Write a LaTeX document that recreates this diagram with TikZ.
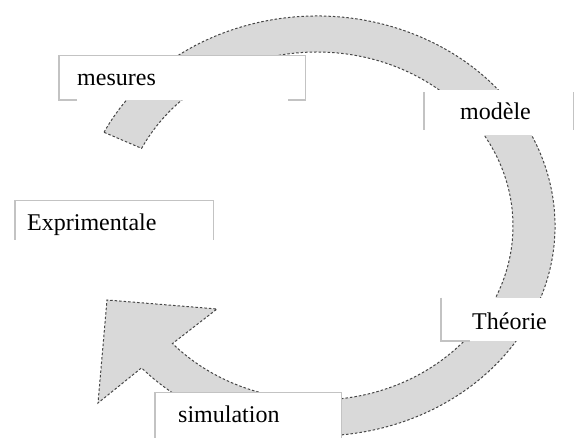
\documentclass[tikz,border=0pt]{standalone}
\usepackage{fontspec}
\setmainfont{Liberation Serif}
\usetikzlibrary{calc}
\definecolor{ringgray}{RGB}{217,217,217}
\definecolor{ringline}{RGB}{70,70,70}
\definecolor{boxgray}{RGB}{195,195,195}

\begin{document}
\begin{tikzpicture}[x=1pt,y=1pt,
    ring/.style={fill=ringgray,draw=ringline,line width=1pt,dash pattern=on 2.5pt off 2pt},
    blank/.style={fill=white,draw=none,inner sep=0pt,anchor=south west},
    boxedge/.style={draw=boxgray,line width=1.5pt},
    lbl/.style={anchor=base west,inner sep=0pt,font=\fontsize{24}{28}\selectfont}]
  \useasboundingbox (0,0) rectangle (579,438);
  \coordinate (c) at (317,212);
  % circular arrow
  \path[ring] ($(c)+(153.5:238pt and 210pt)$)
      arc[start angle=153.5, end angle=-137.5, x radius=238pt, y radius=210pt]
      -- (98,35) -- (107,138) -- (217,129)
      -- ($(c)+(-137.5:196pt and 174pt)$)
      arc[start angle=-137.5, end angle=153.5, x radius=196pt, y radius=174pt]
      -- cycle;
  % white boxes over the ring
  \foreach \name/\x/\y/\w/\h in {mesbox/59/338/246/44, modbox/424/303/149/45,
      expbox/15/198/198/39, theobox/441/97/119/43, simbox/155/-5/186/50} {
    \node[blank,minimum width=\w pt,minimum height=\h pt] (\name) at (\x,\y) {};
  }
  % visible parts of the borders
  \draw[boxedge] ($(mesbox.south west)+(18,0)$) -- (mesbox.south west) -- (mesbox.north west)
      -- (mesbox.north east) -- (mesbox.south east) -- ++(-17,0);
  \draw[boxedge] ($(modbox.south west)+(0,5)$) -- ($(modbox.north west)+(0,-2)$);
  \draw[boxedge] ($(modbox.south east)+(0,5)$) -- ($(modbox.north east)+(0,-2)$);
  \draw[boxedge] (expbox.south west) -- (expbox.north west) -- (expbox.north east) -- (expbox.south east);
  \draw[boxedge] (theobox.north west) -- (theobox.south west) -- ++(29,0);
  \draw[boxedge] (simbox.south west) -- (simbox.north west) -- (simbox.north east) -- (simbox.south east);
  % labels
  \foreach \name/\txt/\x/\y in {mes/mesures/77/352, mod/modèle/460/318, exp/Exprimentale/27/207,
      theo/Théorie/472/108, sim/simulation/178/15} {
    \node[lbl] (\name) at (\x,\y) {\txt};
  }
\end{tikzpicture}
\end{document}
